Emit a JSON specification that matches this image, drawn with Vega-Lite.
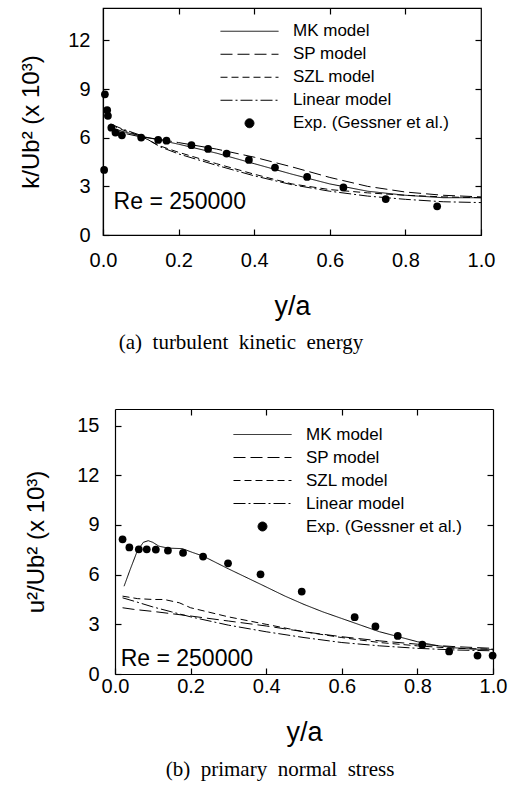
{
  "$schema": "https://vega.github.io/schema/vega-lite/v6.json",
  "padding": {"top": 6, "left": 19, "right": 5, "bottom": 5},
  "background": "white",
  "config": {
    "view": {"stroke": "black", "strokeWidth": 1.2},
    "font": "Liberation Sans",
    "axis": {"grid": false, "domainColor": "black", "tickColor": "black", "labelColor": "black", "titleColor": "black", "labelFont": "Liberation Sans", "titleFont": "Liberation Sans", "labelFontSize": 20, "titleFontSize": 24, "titleFontWeight": "normal", "tickSize": -6, "domainWidth": 1.2, "tickWidth": 1.2, "labelFlush": false},
    "legend": {"labelFont": "Liberation Sans", "labelFontSize": 17, "labelColor": "black"}
  },
  "resolve": {"scale": {"strokeDash": "independent"}, "legend": {"strokeDash": "independent"}},
  "datasets": {
    "k_models": [
      {"x": 0.02, "y": 6.65, "model": "MK model"}, {"x": 0.05, "y": 6.4, "model": "MK model"}, {"x": 0.1, "y": 6.1, "model": "MK model"}, {"x": 0.15, "y": 5.85, "model": "MK model"}, {"x": 0.2, "y": 5.6, "model": "MK model"}, {"x": 0.3, "y": 5.05, "model": "MK model"}, {"x": 0.4, "y": 4.4, "model": "MK model"}, {"x": 0.5, "y": 3.75, "model": "MK model"}, {"x": 0.6, "y": 3.15, "model": "MK model"}, {"x": 0.7, "y": 2.7, "model": "MK model"}, {"x": 0.8, "y": 2.45, "model": "MK model"}, {"x": 0.9, "y": 2.3, "model": "MK model"}, {"x": 1.0, "y": 2.3, "model": "MK model"},
      {"x": 0.02, "y": 6.6, "model": "SP model"}, {"x": 0.05, "y": 6.3, "model": "SP model"}, {"x": 0.1, "y": 6.05, "model": "SP model"}, {"x": 0.15, "y": 5.9, "model": "SP model"}, {"x": 0.2, "y": 5.7, "model": "SP model"}, {"x": 0.3, "y": 5.3, "model": "SP model"}, {"x": 0.4, "y": 4.8, "model": "SP model"}, {"x": 0.5, "y": 4.2, "model": "SP model"}, {"x": 0.6, "y": 3.55, "model": "SP model"}, {"x": 0.7, "y": 3.0, "model": "SP model"}, {"x": 0.8, "y": 2.65, "model": "SP model"}, {"x": 0.9, "y": 2.45, "model": "SP model"}, {"x": 1.0, "y": 2.35, "model": "SP model"},
      {"x": 0.02, "y": 6.8, "model": "SZL model"}, {"x": 0.05, "y": 6.5, "model": "SZL model"}, {"x": 0.1, "y": 6.1, "model": "SZL model"}, {"x": 0.15, "y": 5.5, "model": "SZL model"}, {"x": 0.2, "y": 5.1, "model": "SZL model"}, {"x": 0.3, "y": 4.4, "model": "SZL model"}, {"x": 0.4, "y": 3.75, "model": "SZL model"}, {"x": 0.5, "y": 3.15, "model": "SZL model"}, {"x": 0.6, "y": 2.8, "model": "SZL model"}, {"x": 0.7, "y": 2.6, "model": "SZL model"}, {"x": 0.8, "y": 2.45, "model": "SZL model"}, {"x": 0.9, "y": 2.35, "model": "SZL model"}, {"x": 1.0, "y": 2.3, "model": "SZL model"},
      {"x": 0.02, "y": 6.85, "model": "Linear model"}, {"x": 0.05, "y": 6.55, "model": "Linear model"}, {"x": 0.1, "y": 6.15, "model": "Linear model"}, {"x": 0.15, "y": 5.45, "model": "Linear model"}, {"x": 0.2, "y": 5.0, "model": "Linear model"}, {"x": 0.3, "y": 4.3, "model": "Linear model"}, {"x": 0.4, "y": 3.65, "model": "Linear model"}, {"x": 0.5, "y": 3.1, "model": "Linear model"}, {"x": 0.6, "y": 2.7, "model": "Linear model"}, {"x": 0.7, "y": 2.4, "model": "Linear model"}, {"x": 0.8, "y": 2.2, "model": "Linear model"}, {"x": 0.9, "y": 2.05, "model": "Linear model"}, {"x": 1.0, "y": 2.0, "model": "Linear model"}
    ],
    "k_exp": [
      {"x": 0.003, "y": 4.01}, {"x": 0.005, "y": 8.68}, {"x": 0.011, "y": 7.7}, {"x": 0.013, "y": 7.35}, {"x": 0.022, "y": 6.62}, {"x": 0.033, "y": 6.32}, {"x": 0.05, "y": 6.15}, {"x": 0.101, "y": 6.01}, {"x": 0.146, "y": 5.86}, {"x": 0.168, "y": 5.82}, {"x": 0.234, "y": 5.54}, {"x": 0.278, "y": 5.31}, {"x": 0.327, "y": 5.02}, {"x": 0.386, "y": 4.63}, {"x": 0.455, "y": 4.16}, {"x": 0.54, "y": 3.58}, {"x": 0.636, "y": 2.93}, {"x": 0.748, "y": 2.22}, {"x": 0.884, "y": 1.77}
    ],
    "u_models": [
      {"x": 0.024, "y": 5.3, "model": "MK model"}, {"x": 0.04, "y": 6.3, "model": "MK model"}, {"x": 0.059, "y": 7.43, "model": "MK model"}, {"x": 0.075, "y": 7.95, "model": "MK model"}, {"x": 0.088, "y": 8.05, "model": "MK model"}, {"x": 0.1, "y": 7.95, "model": "MK model"}, {"x": 0.116, "y": 7.72, "model": "MK model"}, {"x": 0.14, "y": 7.6, "model": "MK model"}, {"x": 0.178, "y": 7.57, "model": "MK model"}, {"x": 0.205, "y": 7.34, "model": "MK model"}, {"x": 0.233, "y": 7.12, "model": "MK model"}, {"x": 0.3, "y": 6.35, "model": "MK model"}, {"x": 0.385, "y": 5.42, "model": "MK model"}, {"x": 0.45, "y": 4.7, "model": "MK model"}, {"x": 0.5, "y": 4.2, "model": "MK model"}, {"x": 0.55, "y": 3.75, "model": "MK model"}, {"x": 0.6, "y": 3.35, "model": "MK model"}, {"x": 0.65, "y": 2.95, "model": "MK model"}, {"x": 0.7, "y": 2.55, "model": "MK model"}, {"x": 0.75, "y": 2.25, "model": "MK model"}, {"x": 0.8, "y": 1.95, "model": "MK model"}, {"x": 0.85, "y": 1.72, "model": "MK model"}, {"x": 0.9, "y": 1.58, "model": "MK model"}, {"x": 0.95, "y": 1.5, "model": "MK model"}, {"x": 1.0, "y": 1.48, "model": "MK model"},
      {"x": 0.02, "y": 4.0, "model": "SP model"}, {"x": 0.05, "y": 3.9, "model": "SP model"}, {"x": 0.1, "y": 3.78, "model": "SP model"}, {"x": 0.2, "y": 3.5, "model": "SP model"}, {"x": 0.3, "y": 3.2, "model": "SP model"}, {"x": 0.4, "y": 2.9, "model": "SP model"}, {"x": 0.5, "y": 2.55, "model": "SP model"}, {"x": 0.6, "y": 2.25, "model": "SP model"}, {"x": 0.7, "y": 2.0, "model": "SP model"}, {"x": 0.8, "y": 1.8, "model": "SP model"}, {"x": 0.9, "y": 1.65, "model": "SP model"}, {"x": 1.0, "y": 1.55, "model": "SP model"},
      {"x": 0.02, "y": 4.7, "model": "SZL model"}, {"x": 0.06, "y": 4.55, "model": "SZL model"}, {"x": 0.1, "y": 4.5, "model": "SZL model"}, {"x": 0.13, "y": 4.5, "model": "SZL model"}, {"x": 0.17, "y": 4.3, "model": "SZL model"}, {"x": 0.2, "y": 4.0, "model": "SZL model"}, {"x": 0.3, "y": 3.45, "model": "SZL model"}, {"x": 0.4, "y": 3.0, "model": "SZL model"}, {"x": 0.5, "y": 2.55, "model": "SZL model"}, {"x": 0.6, "y": 2.2, "model": "SZL model"}, {"x": 0.7, "y": 1.9, "model": "SZL model"}, {"x": 0.8, "y": 1.7, "model": "SZL model"}, {"x": 0.9, "y": 1.55, "model": "SZL model"}, {"x": 1.0, "y": 1.5, "model": "SZL model"},
      {"x": 0.02, "y": 4.6, "model": "Linear model"}, {"x": 0.05, "y": 4.4, "model": "Linear model"}, {"x": 0.1, "y": 4.05, "model": "Linear model"}, {"x": 0.15, "y": 3.75, "model": "Linear model"}, {"x": 0.2, "y": 3.45, "model": "Linear model"}, {"x": 0.3, "y": 2.95, "model": "Linear model"}, {"x": 0.4, "y": 2.55, "model": "Linear model"}, {"x": 0.5, "y": 2.2, "model": "Linear model"}, {"x": 0.6, "y": 1.9, "model": "Linear model"}, {"x": 0.7, "y": 1.7, "model": "Linear model"}, {"x": 0.8, "y": 1.55, "model": "Linear model"}, {"x": 0.9, "y": 1.45, "model": "Linear model"}, {"x": 1.0, "y": 1.4, "model": "Linear model"}
    ],
    "u_exp": [
      {"x": 0.02, "y": 8.13}, {"x": 0.038, "y": 7.64}, {"x": 0.063, "y": 7.53}, {"x": 0.084, "y": 7.53}, {"x": 0.108, "y": 7.51}, {"x": 0.14, "y": 7.45}, {"x": 0.18, "y": 7.32}, {"x": 0.233, "y": 7.09}, {"x": 0.299, "y": 6.68}, {"x": 0.385, "y": 6.02}, {"x": 0.494, "y": 4.98}, {"x": 0.634, "y": 3.43}, {"x": 0.689, "y": 2.87}, {"x": 0.748, "y": 2.3}, {"x": 0.813, "y": 1.77}, {"x": 0.884, "y": 1.36}, {"x": 0.959, "y": 1.11}, {"x": 0.999, "y": 1.11}
    ]
  },
  "vconcat": [
    {
      "width": 378, "height": 227,
      "title": {"text": "(a)\u00a0 turbulent\u00a0 kinetic\u00a0 energy", "orient": "bottom", "anchor": "middle", "font": "Liberation Serif", "fontSize": 21, "fontWeight": "normal", "color": "black", "offset": 13, "dx": -51},
      "resolve": {"axis": {"x": "independent", "y": "independent"}},
      "layer": [
        {
          "data": {"name": "k_models"},
          "mark": {"type": "line", "color": "black", "strokeWidth": 1},
          "encoding": {
            "x": {"field": "x", "type": "quantitative", "scale": {"domain": [0, 1]}, "axis": {"orient": "bottom", "values": [0, 0.2, 0.4, 0.6, 0.8, 1.0], "format": ".1f", "title": "y/a", "titleFontSize": 27, "labelPadding": 21, "titlePadding": 23}},
            "y": {"field": "y", "type": "quantitative", "scale": {"domain": [0, 14]}, "axis": {"orient": "left", "values": [0, 3, 6, 9, 12], "title": "k/Ub\u00b2   (x 10\u00b3)", "labelPadding": 19, "titlePadding": 24}},
            "strokeDash": {"field": "model", "type": "nominal",
              "scale": {"domain": ["MK model", "SP model", "SZL model", "Linear model", "Exp. (Gessner et al.)"], "range": [[1, 0], [12, 5], [7, 4], [12, 3, 2, 3], [1, 0]]},
              "legend": {"title": null, "orient": "none", "legendX": 117, "legendY": 12, "symbolType": "stroke", "symbolSize": 3364, "symbolStrokeColor": "black", "symbolStrokeWidth": 1, "labelOffset": 14, "rowPadding": 0, "clipHeight": 22.5,
                "encode": {"symbols": {"update": {
                  "shape": {"signal": "datum.value === 'Exp. (Gessner et al.)' ? 'circle' : 'stroke'"},
                  "size": {"signal": "datum.value === 'Exp. (Gessner et al.)' ? 80 : 3364"},
                  "fill": {"signal": "datum.value === 'Exp. (Gessner et al.)' ? 'black' : 'transparent'"},
                  "stroke": {"value": "black"}}}}}}
          }
        },
        {
          "data": {"name": "k_exp"},
          "mark": {"type": "point", "shape": "circle", "filled": true, "color": "black", "size": 60, "opacity": 1},
          "encoding": {
            "x": {"field": "x", "type": "quantitative", "axis": {"orient": "top", "values": [0.2, 0.4, 0.6, 0.8], "labels": false, "title": null, "domain": false}},
            "y": {"field": "y", "type": "quantitative", "axis": {"orient": "right", "values": [3, 6, 9, 12], "labels": false, "title": null, "domain": false}},
            "strokeDash": {"datum": "Exp. (Gessner et al.)"}
          }
        },
        {
          "data": {"values": [{"x": 0.028, "y": 2.05, "label": "Re = 250000"}]},
          "mark": {"type": "text", "align": "left", "baseline": "middle", "fontSize": 23, "font": "Liberation Sans", "color": "black"},
          "encoding": {
            "x": {"field": "x", "type": "quantitative", "axis": null},
            "y": {"field": "y", "type": "quantitative", "axis": null},
            "text": {"field": "label"}
          }
        }
      ]
    },
    {
      "width": 390, "height": 265,
      "view": {"stroke": null},
      "title": {"text": "(b)\u00a0 primary\u00a0 normal\u00a0 stress", "orient": "bottom", "anchor": "middle", "font": "Liberation Serif", "fontSize": 21, "fontWeight": "normal", "color": "black", "offset": 14, "dx": -18},
      "resolve": {"axis": {"x": "independent", "y": "independent"}},
      "layer": [
        {
          "data": {"name": "u_models"},
          "mark": {"type": "line", "color": "black", "strokeWidth": 1},
          "encoding": {
            "x": {"field": "x", "type": "quantitative", "scale": {"domain": [0, 1], "range": [12, 390]}, "axis": {"orient": "bottom", "values": [0, 0.2, 0.4, 0.6, 0.8, 1.0], "format": ".1f", "title": "y/a", "titleFontSize": 27, "labelPadding": 8, "titlePadding": 23}},
            "y": {"field": "y", "type": "quantitative", "scale": {"domain": [0, 15]}, "axis": {"orient": "left", "offset": -12, "values": [0, 3, 6, 9, 12, 15], "title": "u\u00b2/Ub\u00b2  (x 10\u00b3)", "labelPadding": 22, "titlePadding": 28}},
            "strokeDash": {"field": "model", "type": "nominal",
              "scale": {"domain": ["MK model", "SP model", "SZL model", "Linear model", "Exp. (Gessner et al.)"], "range": [[1, 0], [12, 5], [7, 4], [12, 3, 2, 3], [1, 0]]},
              "legend": {"title": null, "orient": "none", "legendX": 130, "legendY": 14, "symbolType": "stroke", "symbolSize": 3364, "symbolStrokeColor": "black", "symbolStrokeWidth": 1, "labelOffset": 14, "rowPadding": 0, "clipHeight": 23,
                "encode": {"symbols": {"update": {
                  "shape": {"signal": "datum.value === 'Exp. (Gessner et al.)' ? 'circle' : 'stroke'"},
                  "size": {"signal": "datum.value === 'Exp. (Gessner et al.)' ? 80 : 3364"},
                  "fill": {"signal": "datum.value === 'Exp. (Gessner et al.)' ? 'black' : 'transparent'"},
                  "stroke": {"value": "black"}}}}}}
          }
        },
        {
          "data": {"name": "u_exp"},
          "mark": {"type": "point", "shape": "circle", "filled": true, "color": "black", "size": 60, "opacity": 1},
          "encoding": {
            "x": {"field": "x", "type": "quantitative", "axis": {"orient": "top", "values": [0.2, 0.4, 0.6, 0.8], "labels": false, "title": null}},
            "y": {"field": "y", "type": "quantitative", "axis": {"orient": "right", "values": [3, 6, 9, 12], "labels": false, "title": null}},
            "strokeDash": {"datum": "Exp. (Gessner et al.)"}
          }
        },
        {
          "data": {"values": [{"x": 0.015, "y": 0.92, "label": "Re = 250000"}]},
          "mark": {"type": "text", "align": "left", "baseline": "middle", "fontSize": 23, "font": "Liberation Sans", "color": "black"},
          "encoding": {
            "x": {"field": "x", "type": "quantitative", "axis": null},
            "y": {"field": "y", "type": "quantitative", "axis": null},
            "text": {"field": "label"}
          }
        }
      ]
    }
  ],
  "spacing": 54
}
